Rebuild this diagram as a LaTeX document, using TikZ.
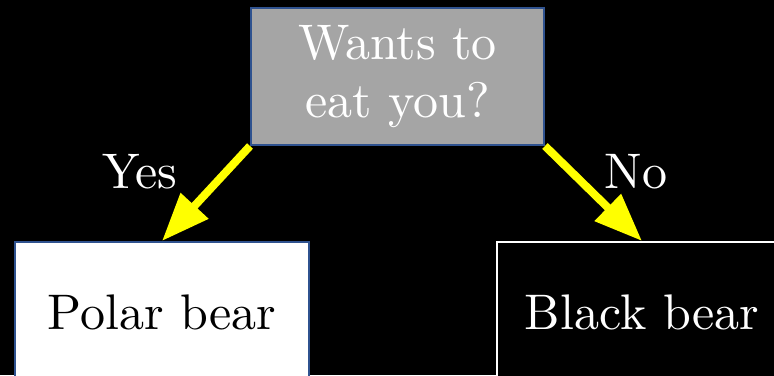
\documentclass[tikz,border=0pt]{standalone}
\usepackage{fontspec}
\usepackage{xcolor}
\usepackage{tikz}
\usetikzlibrary{arrows.meta,positioning}
\newfontfamily\tenrm{lmroman10-regular}[Extension=.otf]
\definecolor{boxblue}{HTML}{2F528F}
\definecolor{askgray}{HTML}{A5A5A5}
\definecolor{tipyellow}{HTML}{FFFF00}
\tikzset{
  bigtext/.style={font=\tenrm\fontsize{50}{58}\selectfont},
  question/.style={rectangle,draw=boxblue,line width=2pt,fill=askgray,text=white,minimum width=293pt,minimum height=137pt,align=center,bigtext},
  polarbox/.style={rectangle,draw=boxblue,line width=2pt,fill=white,text=black,minimum width=294pt,minimum height=140pt,align=center,bigtext},
  blackbox/.style={rectangle,draw=white,line width=2pt,fill=black,text=white,minimum width=290pt,minimum height=140pt,align=center,bigtext},
  answer/.style={text=white,bigtext},
  arrow/.style={-{Triangle[length=48pt,width=36pt]},line width=8pt,draw=tipyellow}
}
\begin{document}
\begin{tikzpicture}[x=1pt,y=1pt,node distance=95pt]
  \fill[black] (0,0) rectangle (774,-375);
  \useasboundingbox (0,0) rectangle (774,-375);
  \node[question] (q) at (397.5,-76.5) {Wants to\\eat you?};
  \node[polarbox, below=of q, xshift=-235.5pt] (polar) {Polar bear};
  \node[blackbox, below=of q, xshift=244.5pt] (black) {Black bear};
  \draw[arrow] (q.south west) -- node[answer, anchor=south east, xshift=-21pt, yshift=-3pt]{Yes} (polar.north);
  \draw[arrow] (q.south east) -- node[answer, anchor=south west, xshift=4pt, yshift=-3pt]{No} (black.north);
\end{tikzpicture}
\end{document}
